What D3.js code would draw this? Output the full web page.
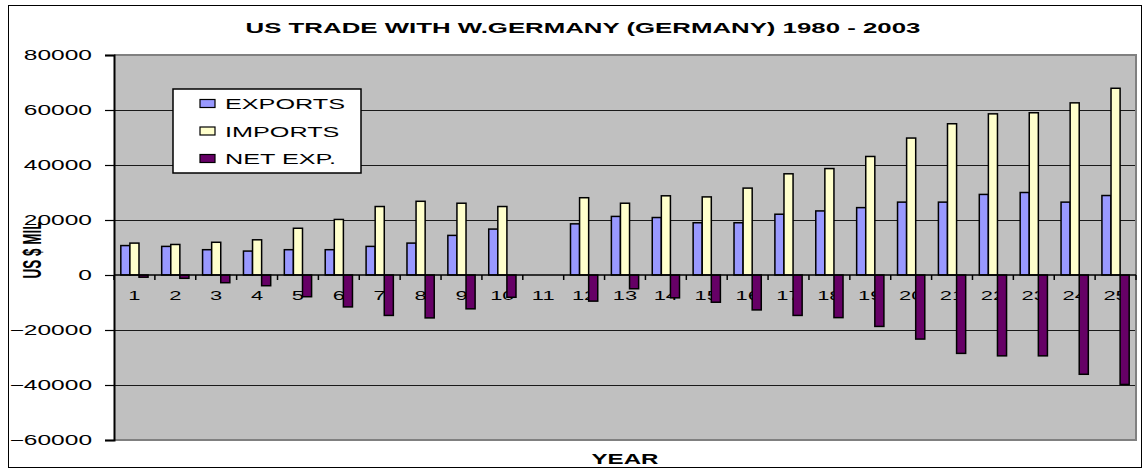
<!DOCTYPE html>
<html>
<head>
<meta charset="utf-8">
<script src="https://cdn.jsdelivr.net/npm/d3@7"></script>
<style>
  body { margin: 0; background: #fff; }
  svg { display: block; font-family: Arial, "Liberation Sans", sans-serif; }
</style>
</head>
<body>
<div id="chart"></div>
<script>
// values (US $ millions), year index 1..25, 11 has no data
const years = d3.range(1, 26).map(String);
const exportsVals = [10700, 10400, 9200, 8700, 9200, 9200, 10400, 11600, 14400, 16700, null, 18600, 21300, 20900, 19000, 19000, 22100, 23300, 24500, 26500, 26500, 29300, 30000, 26500, 28900];
const importsVals = [11600, 11100, 11900, 12800, 17000, 20200, 24900, 26800, 26100, 24900, null, 28100, 26100, 28800, 28400, 31600, 36800, 38700, 43100, 49800, 55000, 58600, 59000, 62600, 67900];
const netVals = [-800, -1200, -2800, -3900, -7900, -11600, -14700, -15600, -12300, -8100, null, -9500, -5000, -8300, -9900, -12700, -14700, -15500, -18700, -23300, -28500, -29400, -29400, -36100, -39800];
const seriesNames = ['EXPORTS', 'IMPORTS', 'NET EXP.'];
const seriesColors = ['#9999ff', '#ffffcc', '#660066'];
const yTicks = [-60000, -40000, -20000, 0, 20000, 40000, 60000, 80000];

const W = 1144, H = 469;
const STRETCH = 1.75; // the original picture is stretched sideways
const plot = { left: 114, right: 1136, top: 55, bottom: 440 };

const svg = d3.select('#chart').append('svg')
  .attr('width', W)
  .attr('height', H);

// squeeze/stretch a text element horizontally like the original bitmap
function stretch(sel, k) {
  sel.each(function () {
    const len = this.getComputedTextLength();
    d3.select(this).attr('textLength', len * k).attr('lengthAdjust', 'spacingAndGlyphs');
  });
}

svg.append('rect')
  .attr('x', 8.5).attr('y', 5.5)
  .attr('width', W - 11).attr('height', H - 7)
  .attr('fill', '#fff')
  .attr('stroke', '#000')
  .attr('stroke-width', 1);

const x = d3.scaleBand()
  .domain(years)
  .range([plot.left, plot.right])
  .paddingInner(1 / 3)
  .paddingOuter(1 / 6);

const xs = d3.scaleBand()
  .domain(seriesNames)
  .range([0, x.bandwidth()]);

const y = d3.scaleLinear()
  .domain([-60000, 80000])
  .range([plot.bottom, plot.top]);

// plot background
svg.append('rect')
  .attr('x', plot.left).attr('y', plot.top)
  .attr('width', plot.right - plot.left)
  .attr('height', plot.bottom - plot.top)
  .attr('fill', '#c0c0c0');

// grid lines
svg.append('g')
  .selectAll('line')
  .data(yTicks.filter(d => d !== 0 && d !== 80000 && d !== -60000))
  .join('line')
  .attr('x1', plot.left).attr('x2', plot.right)
  .attr('y1', d => Math.round(y(d)) + 0.5).attr('y2', d => Math.round(y(d)) + 0.5)
  .attr('stroke', '#1a1a1a')
  .attr('stroke-width', 1.2);

// plot border (top, right, bottom)
svg.append('path')
  .attr('d', `M${plot.left},${plot.top}H${plot.right}V${plot.bottom}H${plot.left}`)
  .attr('fill', 'none')
  .attr('stroke', '#808080')
  .attr('stroke-width', 2);

// category labels sit behind the bars
const xLabels = svg.append('g')
  .selectAll('text')
  .data(years)
  .join('text')
  .attr('x', d => x(d) + x.bandwidth() / 2)
  .attr('y', 300)
  .attr('text-anchor', 'middle')
  .attr('font-size', 12.5)
  .attr('fill', '#000')
  .text(d => d);
stretch(xLabels, STRETCH);

// bars
const seriesData = [exportsVals, importsVals, netVals];
const groups = svg.append('g')
  .selectAll('g')
  .data(seriesNames)
  .join('g')
  .attr('fill', (d, i) => seriesColors[i]);

groups.selectAll('rect')
  .data((s, i) => years.map((yr, j) => ({ yr, s, v: seriesData[i][j] })).filter(d => d.v !== null))
  .join('rect')
  .attr('x', d => x(d.yr) + xs(d.s))
  .attr('width', xs.bandwidth())
  .attr('y', d => y(Math.max(0, d.v)))
  .attr('height', d => Math.abs(y(d.v) - y(0)))
  .attr('stroke', '#000')
  .attr('stroke-width', 1.5);

// zero line with tick marks at category boundaries
const zeroY = y(0);
svg.append('line')
  .attr('x1', plot.left).attr('x2', plot.right)
  .attr('y1', zeroY).attr('y2', zeroY)
  .attr('stroke', '#000')
  .attr('stroke-width', 1.5);

svg.append('g')
  .selectAll('line')
  .data(d3.range(years.length + 1))
  .join('line')
  .attr('x1', i => plot.left + i * x.step())
  .attr('x2', i => plot.left + i * x.step())
  .attr('y1', zeroY).attr('y2', zeroY + 5)
  .attr('stroke', '#000')
  .attr('stroke-width', 1.5);

// y axis
const yAxis = svg.append('g')
  .attr('transform', `translate(${plot.left},0)`)
  .call(d3.axisLeft(y).tickValues(yTicks).tickSize(9).tickPadding(13).tickFormat(d3.format('d')));
yAxis.select('.domain').attr('stroke', '#000').attr('stroke-width', 2);
yAxis.selectAll('.tick line').attr('stroke', '#000').attr('stroke-width', 1.2);
yAxis.selectAll('.tick text')
  .attr('font-size', 14)
  .attr('font-family', 'Arial, "Liberation Sans", sans-serif')
  .attr('fill', '#000');
stretch(yAxis.selectAll('.tick text'), STRETCH);

// title
const title = svg.append('text')
  .attr('x', 583).attr('y', 33)
  .attr('text-anchor', 'middle')
  .attr('font-size', 15)
  .attr('font-weight', 'bold')
  .text('US TRADE WITH W.GERMANY (GERMANY) 1980 - 2003');
stretch(title, 1.72);

// axis titles
const xTitle = svg.append('text')
  .attr('x', (plot.left + plot.right) / 2).attr('y', 464)
  .attr('text-anchor', 'middle')
  .attr('font-size', 14)
  .attr('font-weight', 'bold')
  .text('YEAR');
stretch(xTitle, 1.72);

svg.append('text')
  .attr('transform', 'translate(41,250) scale(1.95,1) rotate(-90)')
  .attr('text-anchor', 'middle')
  .attr('font-size', 13.5)
  .attr('font-weight', 'bold')
  .text('US $ MIL');

// legend
const legend = svg.append('g').attr('transform', 'translate(173,89)');
legend.append('rect')
  .attr('width', 188).attr('height', 84)
  .attr('fill', '#fff')
  .attr('stroke', '#000')
  .attr('stroke-width', 1.5);

const items = legend.selectAll('g')
  .data(seriesNames)
  .join('g')
  .attr('transform', (d, i) => `translate(0,${14.5 + i * 27.5})`);
items.append('rect')
  .attr('x', 27).attr('y', -4)
  .attr('width', 15).attr('height', 8)
  .attr('fill', (d, i) => seriesColors[i])
  .attr('stroke', '#000')
  .attr('stroke-width', 1.2);
const legendText = items.append('text')
  .attr('x', 52).attr('y', 5.5)
  .attr('font-size', 15)
  .text(d => d);
stretch(legendText, 1.68);
</script>
</body>
</html>
